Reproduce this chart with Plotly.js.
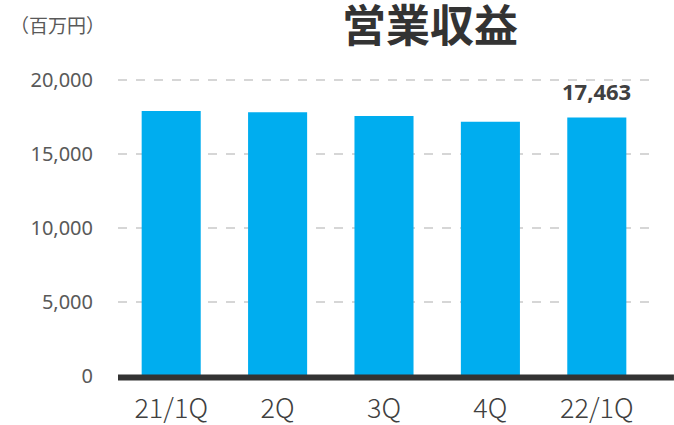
<!DOCTYPE html>
<html><head><meta charset="utf-8">
<script src="https://cdn.plot.ly/plotly-3.0.1.min.js"></script>
<style>html,body{margin:0;padding:0;background:#fff}#chart{width:674px;height:425px}</style>
</head><body><div id="chart"></div>
<script>
const categories = ["21/1Q", "2Q", "3Q", "4Q", "22/1Q"];
const revenue = [17900, 17820, 17560, 17180, 17463];
const yTicks = [0, 5000, 10000, 15000, 20000];
const yTickLabels = ["0", "5,000", "10,000", "15,000", "20,000"];
const labelIndex = 4;

const data = [{
  type: "bar",
  x: categories,
  y: revenue,
  marker: {color: "#00ADEF"},
  hoverinfo: "none"
}];

const layout = {
  width: 674, height: 425,
  margin: {l: 118, r: 24, t: 78, b: 49},
  paper_bgcolor: "#fff", plot_bgcolor: "#fff",
  bargap: 0.445,
  showlegend: false,
  title: {text: "営業収益", x: 0.638, xanchor: "center", y: 0.938, yanchor: "middle",
    font: {family: "Noto Sans CJK JP", size: 44, color: "#333333", weight: 700}},
  xaxis: {
    type: "category",
    showgrid: false, zeroline: false, showline: false,
    ticks: "", ticklabelstandoff: 14,
    tickfont: {family: "Noto Sans CJK JP", size: 27, color: "#404040", weight: 300}
  },
  yaxis: {
    range: [0, 20135],
    tickvals: yTicks, ticktext: yTickLabels,
    showgrid: true, gridcolor: "#d6d6d6", gridwidth: 1.5, griddash: "dash",
    zeroline: false, showline: false, ticks: "", ticklabelstandoff: 24,
    tickfont: {family: "Noto Sans, Liberation Sans", size: 20, color: "#595959"}
  },
  shapes: [{
    type: "line", xref: "paper", yref: "paper", x0: 0, x1: 1.045, y0: -0.005, y1: -0.005,
    line: {color: "#333333", width: 6}
  }],
  annotations: [{
    x: categories[labelIndex], y: revenue[labelIndex], xref: "x", yref: "y",
    text: "<b>" + revenue[labelIndex].toLocaleString("en-US") + "</b>",
    showarrow: false, yanchor: "middle", yshift: 27,
    font: {family: "Noto Sans, Liberation Sans", size: 22, color: "#404040"}
  }, {
    x: 0, y: 1, xref: "paper", yref: "paper", xanchor: "left", yanchor: "middle",
    text: "（百万円）", showarrow: false, xshift: -110, yshift: 54,
    font: {family: "Noto Sans CJK JP", size: 19, color: "#595959"}
  }]
};

Plotly.newPlot("chart", data, layout, {displayModeBar: false, staticPlot: true});
</script></body></html>
